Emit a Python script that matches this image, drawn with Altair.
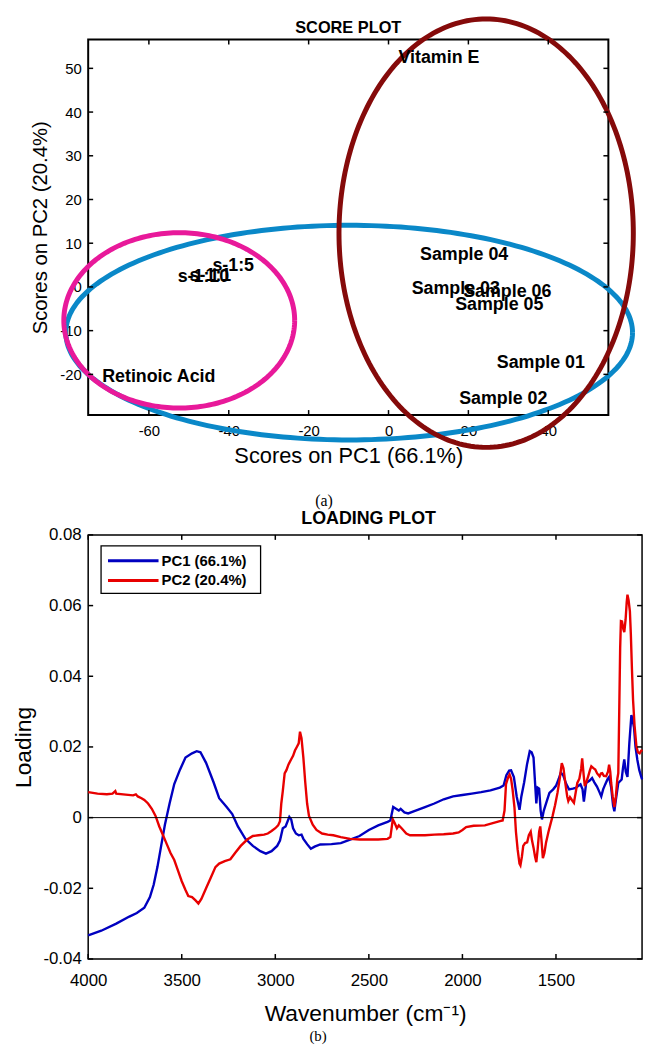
import altair as alt
import numpy as np
import pandas as pd

# ---------------- SCORE PLOT data ----------------
score_labels = ["Vitamin E", "Sample 04", "Sample 03", "Sample 06", "Sample 05",
                "Sample 01", "Sample 02", "Retinoic Acid", "s-1:5", "s-1:10", "s-1:1"]
score_pc1 = [2.5, 7.9, 5.8, 18.7, 16.7, 27.1, 17.7, -71.7, -44.1, -52.8, -49.8]
score_pc2 = [52.3, 7.4, -0.5, -1.2, -4.1, -17.5, -25.7, -20.7, 4.7, 2.2, 2.4]

# confidence ellipses (centre and semi-axes in score units)
ell_names = ["Samples", "Retinoids", "Vitamin E"]
ell_cx = [-9.85, -52.4, 24.45]
ell_cy = [-10.45, -7.65, 12.3]
ell_rx = [70.95, 28.9, 36.85]
ell_ry = [24.55, 20.05, 49.0]
ell_colors = ["#0A88C8", "#E8199A", "#850A0A"]

score_xticks = [-60, -40, -20, 0, 20, 40]
score_yticks = [-20, -10, 0, 10, 20, 30, 40, 50]

# ---------------- LOADING PLOT data ----------------
pc1_wn = [4000, 3930, 3850, 3780, 3740, 3700, 3670, 3650, 3630, 3610, 3590, 3565, 3540, 3510,
          3480, 3445, 3420, 3400, 3370, 3330, 3300, 3260, 3230, 3200, 3160, 3120, 3080, 3050,
          3020, 2990, 2975, 2960, 2945, 2925, 2915, 2905, 2890, 2875, 2860, 2850, 2830, 2810,
          2790, 2760, 2700, 2650, 2600, 2550, 2500, 2450, 2400, 2385, 2370, 2355, 2340, 2330,
          2310, 2290, 2250, 2200, 2150, 2100, 2050, 2000, 1950, 1900, 1850, 1800, 1780, 1765,
          1750, 1740, 1725, 1710, 1695, 1685, 1670, 1655, 1640, 1630, 1620, 1612, 1605, 1598,
          1590, 1582, 1575, 1565, 1550, 1535, 1515, 1500, 1485, 1474, 1462, 1445, 1430, 1410,
          1395, 1380, 1369, 1358, 1351, 1345, 1339, 1320, 1307, 1295, 1281, 1270, 1258, 1248,
          1237, 1225, 1216, 1205, 1195, 1188, 1180, 1167, 1149, 1142, 1135, 1127, 1118, 1108,
          1097, 1090, 1083, 1075, 1065, 1055, 1047, 1040]
pc1_val = [-0.0333, -0.0320, -0.0300, -0.0280, -0.0270, -0.0255, -0.0225, -0.0190, -0.0140,
           -0.0080, -0.0020, 0.0040, 0.0095, 0.0135, 0.0170, 0.0182, 0.0188, 0.0185, 0.0155,
           0.0100, 0.0055, 0.0030, 0.0010, -0.0025, -0.0060, -0.0080, -0.0095, -0.0102, -0.0095,
           -0.0080, -0.0065, -0.0030, -0.0025, 0.0002, -0.0005, -0.0030, -0.0045, -0.0050,
           -0.0048, -0.0060, -0.0075, -0.0088, -0.0082, -0.0076, -0.0075, -0.0072, -0.0062,
           -0.0052, -0.0035, -0.0022, -0.0012, -0.0008, 0.0030, 0.0025, 0.0020, 0.0025, 0.0015,
           0.0012, 0.0020, 0.0030, 0.0040, 0.0052, 0.0060, 0.0064, 0.0068, 0.0072, 0.0077,
           0.0085, 0.0091, 0.0120, 0.0133, 0.0134, 0.0115, 0.0060, 0.0022, 0.0060, 0.0100,
           0.0150, 0.0188, 0.0185, 0.0170, 0.0100, 0.0040, 0.0085, 0.0082, 0.0020, -0.0005,
           0.0020, 0.0045, 0.0070, 0.0080, 0.0090, 0.0110, 0.0128, 0.0120, 0.0095, 0.0080,
           0.0082, 0.0084, 0.0090, 0.0094, 0.0080, 0.0045, 0.0070, 0.0098, 0.0105, 0.0112,
           0.0100, 0.0088, 0.0075, 0.0060, 0.0080, 0.0094, 0.0108, 0.0115, 0.0085, 0.0035,
           0.0018, 0.0050, 0.0098, 0.0108, 0.0140, 0.0165, 0.0130, 0.0115, 0.0210, 0.0290,
           0.0275, 0.0255, 0.0200, 0.0163, 0.0135, 0.0120, 0.0108]

pc2_wn = [4000, 3950, 3900, 3870, 3855, 3850, 3800, 3760, 3745, 3735, 3715, 3700, 3680, 3660,
          3640, 3620, 3600, 3580, 3560, 3540, 3520, 3500, 3480, 3465, 3445, 3425, 3411, 3395,
          3370, 3345, 3320, 3300, 3270, 3240, 3215, 3185, 3150, 3120, 3090, 3060, 3040, 3020,
          3000, 2985, 2975, 2968, 2960, 2950, 2940, 2930, 2915, 2905, 2895, 2885, 2875, 2868,
          2860, 2850, 2840, 2830, 2820, 2800, 2780, 2750, 2720, 2690, 2650, 2600, 2550, 2500,
          2450, 2400, 2385, 2372, 2362, 2350, 2340, 2325, 2300, 2280, 2200, 2150, 2100, 2050,
          2020, 2000, 1980, 1940, 1880, 1800, 1785, 1775, 1767, 1755, 1748, 1740, 1732, 1722,
          1714, 1705, 1695, 1690, 1682, 1675, 1665, 1654, 1645, 1635, 1628, 1620, 1612, 1605,
          1598, 1590, 1584, 1578, 1570, 1562, 1553, 1540, 1518, 1505, 1492, 1480, 1469, 1460,
          1448, 1440, 1434, 1425, 1415, 1404, 1395, 1386, 1375, 1365, 1360, 1352, 1346, 1338,
          1328, 1318, 1311, 1300, 1290, 1280, 1267, 1260, 1253, 1244, 1232, 1222, 1216, 1210,
          1205, 1197, 1188, 1180, 1172, 1167, 1162, 1157, 1153, 1147, 1140, 1135, 1128, 1122,
          1118, 1112, 1105, 1100, 1094, 1088, 1080, 1070, 1062, 1053, 1046, 1040]
pc2_val = [0.0072, 0.0068, 0.0066, 0.0068, 0.0075, 0.0068, 0.0065, 0.0063, 0.0066, 0.0060,
           0.0055, 0.0050, 0.0040, 0.0025, 0.0005, -0.0025, -0.0050, -0.0075, -0.0100, -0.0120,
           -0.0150, -0.0180, -0.0205, -0.0222, -0.0225, -0.0235, -0.0243, -0.0230, -0.0200,
           -0.0170, -0.0140, -0.0130, -0.0123, -0.0118, -0.0100, -0.0080, -0.0062, -0.0052,
           -0.0050, -0.0048, -0.0045, -0.0038, -0.0030, -0.0022, -0.0010, 0.0040, 0.0075,
           0.0125, 0.0135, 0.0150, 0.0165, 0.0175, 0.0190, 0.0200, 0.0210, 0.0243, 0.0225,
           0.0170, 0.0100, 0.0040, 0.0005, -0.0020, -0.0035, -0.0045, -0.0048, -0.0050,
           -0.0055, -0.0060, -0.0062, -0.0062, -0.0062, -0.0060, -0.0055, -0.0005, -0.0015,
           -0.0030, -0.0022, -0.0030, -0.0045, -0.0050, -0.0050, -0.0048, -0.0047, -0.0045,
           -0.0042, -0.0035, -0.0027, -0.0023, -0.0022, -0.0010, -0.0008, 0.0020, 0.0095,
           0.0115, 0.0122, 0.0110, 0.0080, 0.0030, -0.0040, -0.0090, -0.0130, -0.0135, -0.0110,
           -0.0080, -0.0072, -0.0070, -0.0050, -0.0040, -0.0065, -0.0085, -0.0110, -0.0126,
           -0.0090, -0.0040, -0.0025, -0.0060, -0.0115, -0.0100, -0.0070, -0.0040, 0.0005,
           0.0035, 0.0070, 0.0110, 0.0154, 0.0140, 0.0090, 0.0060, 0.0047, 0.0058, 0.0050,
           0.0042, 0.0070, 0.0098, 0.0110, 0.0140, 0.0168, 0.0120, 0.0089, 0.0100, 0.0117,
           0.0135, 0.0145, 0.0140, 0.0136, 0.0125, 0.0117, 0.0125, 0.0126, 0.0118, 0.0117,
           0.0130, 0.0150, 0.0130, 0.0098, 0.0060, 0.0030, 0.0060, 0.0110, 0.0126, 0.0300,
           0.0480, 0.0556, 0.0555, 0.0533, 0.0525, 0.0560, 0.0610, 0.0631, 0.0615, 0.0584,
           0.0520, 0.0420, 0.0332, 0.0260, 0.0201, 0.0185, 0.0182, 0.0188, 0.0192]

series_names = ["PC1 (66.1%)", "PC2 (20.4%)"]
series_colors = ["#0000C0", "#E80000"]

load_xticks = [4000, 3500, 3000, 2500, 2000, 1500]
load_yticks = [-0.04, -0.02, 0, 0.02, 0.04, 0.06, 0.08]

FONT = "Liberation Sans"

# ================= SCORE PLOT =================
W1, H1 = 525, 379
xs1 = alt.Scale(domain=[-75.2, 55.05], nice=False, zero=False)
ys1 = alt.Scale(domain=[-29.3, 56.6], nice=False, zero=False)
ax_x1 = alt.Axis(values=score_xticks, title="Scores on PC1 (66.1%)",
                 labelExpr="'' + datum.value", labelFontSize=15, labelPadding=9,
                 labelFlush=False, labelOverlap=False,
                 titleFontSize=22, titleY=41, titleBaseline="middle",
                 grid=False, domain=False, ticks=False)
ax_y1 = alt.Axis(values=score_yticks, title="Scores on PC2 (20.4%)",
                 labelExpr="'' + datum.value", labelFontSize=15, labelPadding=7,
                 labelFlush=False, labelOverlap=False,
                 titleFontSize=20.5, titleX=-48, titleY=H1 / 2, titleBaseline="middle",
                 grid=False, domain=False, ticks=False)

theta = np.linspace(0, 2 * np.pi, 241)
rows = []
for k, name in enumerate(ell_names):
    for i, t in enumerate(theta):
        rows.append({"g": name, "i": i,
                     "x": ell_cx[k] + ell_rx[k] * np.cos(t),
                     "y": ell_cy[k] + ell_ry[k] * np.sin(t)})
ell_df = pd.DataFrame(rows)

ellipses = alt.Chart(ell_df).mark_line(strokeWidth=5).encode(
    x=alt.X("x:Q", scale=xs1, axis=ax_x1),
    y=alt.Y("y:Q", scale=ys1, axis=ax_y1),
    color=alt.Color("g:N", scale=alt.Scale(domain=ell_names, range=ell_colors), legend=None),
    order="i:Q",
)

score_df = pd.DataFrame({"label": score_labels, "pc1": score_pc1, "pc2": score_pc2})
score_text = alt.Chart(score_df).mark_text(
    align="left", baseline="middle", fontSize=18, fontWeight="bold", font=FONT, color="black"
).encode(
    x=alt.X("pc1:Q", scale=xs1, axis=ax_x1),
    y=alt.Y("pc2:Q", scale=ys1, axis=ax_y1),
    text="label:N",
)

sx_df = pd.DataFrame({"v": score_xticks})
sy_df = pd.DataFrame({"v": score_yticks})
tick_b1 = alt.Chart(sx_df).mark_rule(color="black", strokeWidth=1.5).encode(
    x=alt.X("v:Q", scale=xs1, axis=ax_x1), y=alt.value(H1), y2=alt.value(H1 - 5))
tick_t1 = alt.Chart(sx_df).mark_rule(color="black", strokeWidth=1.5).encode(
    x=alt.X("v:Q", scale=xs1, axis=ax_x1), y=alt.value(0), y2=alt.value(5))
tick_l1 = alt.Chart(sy_df).mark_rule(color="black", strokeWidth=1.5).encode(
    y=alt.Y("v:Q", scale=ys1, axis=ax_y1), x=alt.value(0), x2=alt.value(5))
tick_r1 = alt.Chart(sy_df).mark_rule(color="black", strokeWidth=1.5).encode(
    y=alt.Y("v:Q", scale=ys1, axis=ax_y1), x=alt.value(W1 - 5), x2=alt.value(W1))

score_title = alt.Chart(pd.DataFrame({"t": ["SCORE PLOT"]})).mark_text(
    fontSize=16.5, fontWeight="bold", font=FONT, baseline="middle", align="center", color="black"
).encode(x=alt.value(W1 / 2), y=alt.value(-12), text="t:N")

score = alt.layer(
    ellipses, tick_b1, tick_t1, tick_l1, tick_r1, score_text, score_title
).properties(width=W1, height=H1,
             view=alt.ViewBackground(stroke="black", strokeWidth=2))

# ================= LOADING PLOT =================
W2, H2 = 559, 428
xs2 = alt.Scale(domain=[4000, 1040], nice=False, zero=False)
ys2 = alt.Scale(domain=[-0.04, 0.08], nice=False, zero=False)
ax_x2 = alt.Axis(values=load_xticks, title="Wavenumber (cm⁻¹)",
                 labelExpr="'' + datum.value", labelFontSize=17, labelPadding=14,
                 labelFlush=False, labelOverlap=False,
                 titleFontSize=23, titleY=55, titleBaseline="middle",
                 grid=False, domain=False, ticks=False)
ax_y2 = alt.Axis(values=load_yticks, title="Loading",
                 labelExpr="'' + datum.value", labelFontSize=17, labelPadding=7,
                 labelFlush=False, labelOverlap=False,
                 titleFontSize=23, titleX=-65, titleY=H2 / 2, titleBaseline="middle",
                 grid=False, domain=False, ticks=False)

load_df = pd.concat([
    pd.DataFrame({"wn": pc1_wn, "val": pc1_val, "s": series_names[0]}),
    pd.DataFrame({"wn": pc2_wn, "val": pc2_val, "s": series_names[1]}),
])

lines = alt.Chart(load_df).mark_line(strokeWidth=2.4).encode(
    x=alt.X("wn:Q", scale=xs2, axis=ax_x2),
    y=alt.Y("val:Q", scale=ys2, axis=ax_y2),
    color=alt.Color("s:N", scale=alt.Scale(domain=series_names, range=series_colors), legend=None),
    detail="s:N",
)

zero_line = alt.Chart(pd.DataFrame({"z": [0]})).mark_rule(color="black", strokeWidth=1).encode(
    y=alt.Y("z:Q", scale=ys2, axis=ax_y2))

lx_df = pd.DataFrame({"v": load_xticks})
ly_df = pd.DataFrame({"v": load_yticks})
tick_b2 = alt.Chart(lx_df).mark_rule(color="black", strokeWidth=1.5).encode(
    x=alt.X("v:Q", scale=xs2, axis=ax_x2), y=alt.value(H2), y2=alt.value(H2 - 5))
tick_t2 = alt.Chart(lx_df).mark_rule(color="black", strokeWidth=1.5).encode(
    x=alt.X("v:Q", scale=xs2, axis=ax_x2), y=alt.value(0), y2=alt.value(5))
tick_l2 = alt.Chart(ly_df).mark_rule(color="black", strokeWidth=1.5).encode(
    y=alt.Y("v:Q", scale=ys2, axis=ax_y2), x=alt.value(0), x2=alt.value(5))
tick_r2 = alt.Chart(ly_df).mark_rule(color="black", strokeWidth=1.5).encode(
    y=alt.Y("v:Q", scale=ys2, axis=ax_y2), x=alt.value(W2 - 5), x2=alt.value(W2))

# legend box (manual, MATLAB style)
leg_box = alt.Chart(pd.DataFrame({"a": [0]})).mark_rect(
    fill="white", stroke="black", strokeWidth=1.3).encode(
    x=alt.value(13), x2=alt.value(174), y=alt.value(11), y2=alt.value(59))
leg_layers = []
for k, name in enumerate(series_names):
    yy = 26 + 20 * k
    leg_layers.append(alt.Chart(pd.DataFrame({"s": [name]})).mark_rule(
        color=series_colors[k], strokeWidth=3).encode(
        x=alt.value(20), x2=alt.value(71), y=alt.value(yy)))
    leg_layers.append(alt.Chart(pd.DataFrame({"s": [name]})).mark_text(
        align="left", baseline="middle", fontSize=15, fontWeight="bold", font=FONT,
        color="black").encode(x=alt.value(74), y=alt.value(yy), text="s:N"))

load_title = alt.Chart(pd.DataFrame({"t": ["LOADING PLOT"]})).mark_text(
    fontSize=18, fontWeight="bold", font=FONT, baseline="middle", align="center", color="black"
).encode(x=alt.value(283), y=alt.value(-16), text="t:N")

cap_a = alt.Chart(pd.DataFrame({"t": ["(a)"]})).mark_text(
    fontSize=16, font="Liberation Serif", baseline="middle", align="center", color="black"
).encode(x=alt.value(238), y=alt.value(-34), text="t:N")
cap_b = alt.Chart(pd.DataFrame({"t": ["(b)"]})).mark_text(
    fontSize=15, font="Liberation Serif", baseline="middle", align="center", color="black"
).encode(x=alt.value(232), y=alt.value(H2 + 78), text="t:N")

loading = alt.layer(
    lines, zero_line, tick_b2, tick_t2, tick_l2, tick_r2, leg_box, *leg_layers,
    load_title, cap_a, cap_b
).properties(width=W2, height=H2,
             view=alt.ViewBackground(stroke="black", strokeWidth=1.5))

chart = alt.vconcat(score, loading, spacing=121, bounds="flush").resolve_scale(
    color="independent"
).properties(
    padding={"left": 12, "top": 3, "right": 0, "bottom": 0}
).configure_axis(
    labelFont=FONT, titleFont=FONT, labelColor="black", titleColor="black",
    titleFontWeight="normal",
).configure_view(stroke="black")

chart.save("out.html", embed_options={"renderer": "svg", "actions": False})
